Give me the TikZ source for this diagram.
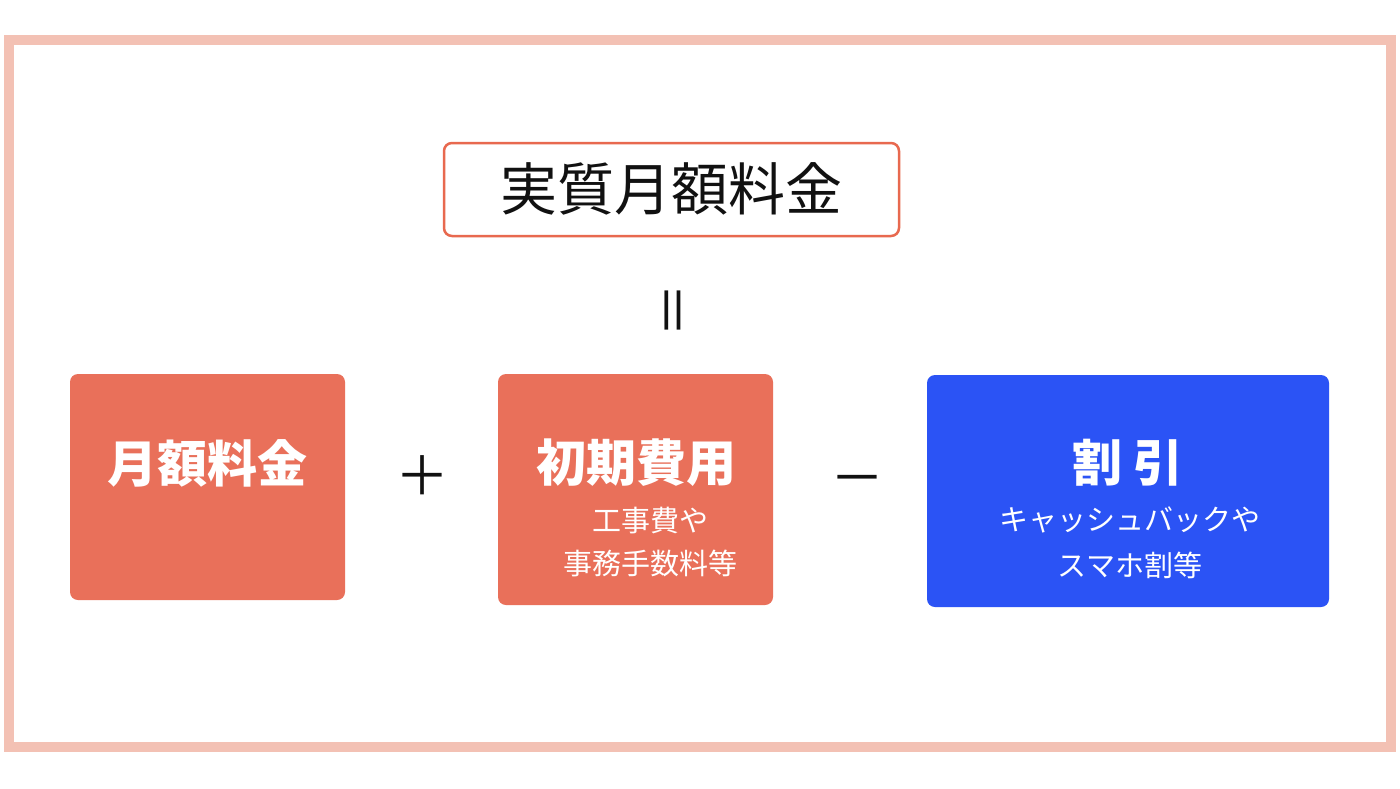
\documentclass[tikz,border=0pt]{standalone}
\usepackage{fontspec}
\newfontfamily\jp{Noto Sans CJK JP}
\definecolor{framepink}{HTML}{F3C1B4}
\definecolor{boxorange}{HTML}{E9705A}
\definecolor{titleline}{HTML}{E8694F}
\definecolor{boxblue}{HTML}{2B53F5}
\definecolor{ink}{HTML}{111111}
\tikzset{
  panel/.style={rectangle, rounded corners=8pt, inner sep=0pt, draw=none},
  bigtxt/.style={inner sep=0pt, text=white, font=\jp\bfseries\fontsize{50}{50}\selectfont},
  subtxt/.style={inner sep=0pt, text=white, font=\jp\fontsize{29}{29}\selectfont},
  optxt/.style={inner sep=0pt, text=ink, font=\jp\fontsize{54}{54}\selectfont}
}
\begin{document}
\begin{tikzpicture}[x=1pt,y=-1pt]
\useasboundingbox (0,0) rectangle (1400,788);
\fill[white] (0,0) rectangle (1400,788);
\draw[line width=10pt, framepink] (9,40) rectangle (1391,747);
% title
\node[panel, draw=titleline, line width=2.5pt, fill=white, minimum width=455pt, minimum height=93pt] (title) at (671.5,189.5) {};
\node[inner sep=0pt, text=ink, font=\jp\fontsize{57}{57}\selectfont] (titletxt) at (671.5,189) {実質月額料金};
\node[optxt, rotate=90] (eq) at (679,310) {＝};
% boxes
\node[panel, fill=boxorange, minimum width=275pt, minimum height=226pt] (b1) at (207.5,487) {};
\node[panel, fill=boxorange, minimum width=275pt, minimum height=231pt] (b2) at (635.5,489.5) {};
\node[panel, fill=boxblue, minimum width=402pt, minimum height=232pt] (b3) at (1128,491) {};
% labels
\node[bigtxt] (l1) at (207,463) {月額料金};
\node[bigtxt] (l2) at (636,463) {初期費用};
\node[subtxt] (l2a) at (650,521) {工事費や};
\node[subtxt] (l2b) at (650,563) {事務手数料等};
\node[bigtxt] (l3) at (1128,463) {割 引};
\node[subtxt] (l3a) at (1130,520) {キャッシュバックや};
\node[subtxt] (l3b) at (1130,565) {スマホ割等};
% operators
\node[optxt] (plus) at (422,476) {＋};
\node[optxt] (minus) at (857,486) {－};
\end{tikzpicture}
\end{document}
